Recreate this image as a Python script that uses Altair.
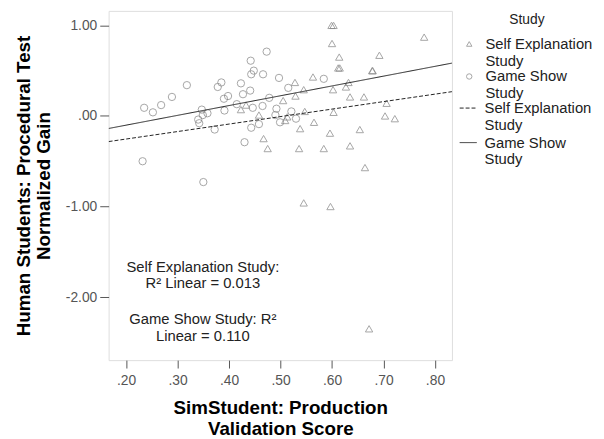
import altair as alt
import pandas as pd

# ---- data ----
se_x = [0.423, 0.433, 0.458, 0.467, 0.475, 0.505, 0.509, 0.513, 0.528, 0.529, 0.545,
        0.547, 0.538, 0.565, 0.536, 0.563, 0.584, 0.599, 0.603, 0.600, 0.614, 0.612,
        0.615, 0.632, 0.602, 0.627, 0.635, 0.662, 0.603, 0.596, 0.635, 0.654, 0.664,
        0.678, 0.679, 0.692, 0.706, 0.703, 0.722, 0.779, 0.545, 0.597, 0.672]
se_y = [0.07, 0.12, 0.01, -0.25, -0.36, 0.17, -0.05, -0.01, 0.37, 0.22, 0.29,
        0.05, -0.14, -0.07, -0.36, 0.43, -0.36, 1.00, 1.00, 0.80, 0.65, 0.53,
        0.53, 0.37, 0.29, 0.32, 0.21, 0.21, 0.04, -0.19, -0.33, -0.15, -0.57,
        0.50, 0.50, 0.67, 0.14, 0.00, -0.03, 0.87, -0.96, -1.00, -2.35]

gs_x = [0.235, 0.252, 0.268, 0.289, 0.318, 0.232, 0.347, 0.349, 0.340, 0.342, 0.358,
        0.372, 0.350, 0.378, 0.385, 0.390, 0.398, 0.391, 0.415, 0.423, 0.427, 0.441,
        0.442, 0.448, 0.443, 0.466, 0.473, 0.446, 0.443, 0.430, 0.458, 0.465, 0.478,
        0.492, 0.497, 0.515, 0.521, 0.530, 0.499, 0.490, 0.584]
gs_y = [0.09, 0.04, 0.12, 0.21, 0.34, -0.50, 0.07, 0.01, -0.04, -0.08, 0.03,
        -0.15, -0.73, 0.32, 0.37, 0.19, 0.22, 0.06, 0.13, 0.36, 0.24, 0.28,
        0.61, 0.50, 0.46, 0.46, 0.71, 0.09, -0.13, -0.29, -0.09, 0.11, 0.20,
        0.08, 0.42, 0.31, 0.05, -0.03, -0.07, 0.01, 0.41]

studies = ["Self Explanation Study", "Game Show Study"]
fit_names = ["Self Explanation Study line", "Game Show Study line"]
fit_slope = [0.826, 1.082]
fit_intercept = [-0.420, -0.318]

x_domain = [0.166, 0.833]
y_domain = [-2.696, 1.16]
x_ticks = [0.2, 0.3, 0.4, 0.5, 0.6, 0.7, 0.8]
y_ticks = [-2.0, -1.0, 0.0, 1.0]

note_lines = ["Self Explanation Study:", "R² Linear = 0.013",
              "Game Show Study: R²", "Linear = 0.110"]
note_x = [0.349, 0.349, 0.349, 0.349]
note_y = [-1.663, -1.848, -2.239, -2.435]

# ---- tables ----
pts = pd.DataFrame({
    "x": se_x + gs_x,
    "y": se_y + gs_y,
    "Study": [studies[0]] * len(se_x) + [studies[1]] * len(gs_x),
})
fit_rows = []
for s, m, b in zip(fit_names, fit_slope, fit_intercept):
    for xv in x_domain:
        fit_rows.append({"x": xv, "y": b + m * xv, "Fit": s})
fit = pd.DataFrame(fit_rows)
notes = pd.DataFrame({"x": note_x, "y": note_y, "t": note_lines})

FONT = "Liberation Sans"
xs = alt.Scale(domain=x_domain, nice=False, zero=False)
ys = alt.Scale(domain=y_domain, nice=False, zero=False)

x_axis = alt.Axis(values=x_ticks, labelExpr="substring(format(datum.value, '.2f'), 1)",
                  title=["SimStudent: Production", "Validation Score"],
                  grid=False, domain=False, tickSize=8, tickColor="#555",
                  labelColor="#555", labelFontSize=14, labelFont=FONT, labelPadding=6,
                  titleFont=FONT, titleFontSize=19, titleFontWeight="bold",
                  titleColor="#000", titlePadding=11, titleLineHeight=21)
y_axis = alt.Axis(values=y_ticks,
                  labelExpr="datum.value == 0 ? '.00' : (datum.value < 0 ? '-' + format(-datum.value, '.2f') : format(datum.value, '.2f'))",
                  title=["Human Students: Procedural Test", "Normalized Gain"],
                  grid=False, domain=False, tickSize=9, tickColor="#555",
                  labelColor="#555", labelFontSize=14, labelFont=FONT, labelPadding=3,
                  titleFont=FONT, titleFontSize=19, titleFontWeight="bold",
                  titleColor="#000", titlePadding=12, titleLineHeight=20)

points = alt.Chart(pts).mark_point(filled=False, strokeWidth=1, color="#808080", size=55).encode(
    x=alt.X("x:Q", scale=xs, axis=x_axis),
    y=alt.Y("y:Q", scale=ys, axis=y_axis),
    shape=alt.Shape("Study:N",
                    scale=alt.Scale(domain=studies, range=["triangle-up", "circle"]),
                    legend=alt.Legend(title="Study", orient="none", legendX=358, legendY=2,
                                      titleAnchor="middle", titleFont=FONT, titleFontSize=14,
                                      titleFontWeight="normal", titleColor="#222",
                                      titlePadding=10,
                                      labelFont=FONT, labelFontSize=15, labelColor="#222",
                                      labelLimit=200, labelOffset=9,
                                      labelExpr="[replace(datum.label, ' Study', ''), 'Study']",
                                      symbolSize=30, symbolStrokeColor="#808080",
                                      symbolStrokeWidth=1, rowPadding=0, padding=0)),
)

lines = alt.Chart(fit).mark_line(color="#222", strokeWidth=1, clip=True).encode(
    x=alt.X("x:Q", scale=xs),
    y=alt.Y("y:Q", scale=ys),
    strokeDash=alt.StrokeDash("Fit:N",
                              scale=alt.Scale(domain=fit_names, range=[[4, 2], [1, 0]]),
                              legend=alt.Legend(title=None, orient="none", legendX=355, legendY=89,
                                                labelFont=FONT, labelFontSize=15, labelColor="#222",
                                                labelLimit=200, labelOffset=7,
                                                labelExpr="[replace(datum.label, ' Study line', ''), 'Study']",
                                                symbolStrokeColor="#222", symbolStrokeWidth=1,
                                                symbolSize=300, rowPadding=0, padding=0)),
)

text = alt.Chart(notes).mark_text(font=FONT, fontSize=15, color="#222", align="center").encode(
    x=alt.X("x:Q", scale=xs),
    y=alt.Y("y:Q", scale=ys),
    text="t:N",
)

chart = alt.layer(points, lines, text).properties(
    width=348, height=354,
    autosize=alt.AutoSizeParams(type="none"),
    padding={"left": 102, "top": 0, "right": 146, "bottom": 76},
).configure_view(stroke="#888", strokeWidth=1.5).configure(background="white")

chart.save("out.html", embed_options={"renderer": "svg", "actions": False})
